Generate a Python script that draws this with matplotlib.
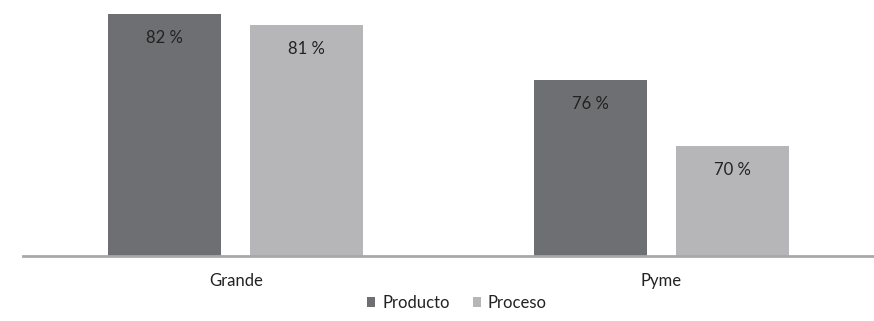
import numpy as np
import matplotlib
matplotlib.use("Agg")
import matplotlib.pyplot as plt
from matplotlib.patches import Patch

plt.rcParams["font.family"] = ["Lato", "DejaVu Sans"]

# Data
categories = ["Grande", "Pyme"]
series     = ["Producto", "Proceso"]
producto   = [82, 76]
proceso    = [81, 70]
colors     = ["#6e6f72", "#b6b6b8"]

fig = plt.figure(figsize=(8.74, 3.21), dpi=100)
ax = fig.add_axes([23 / 874, 1 - 256 / 321, 851 / 874, 256 / 321])

x = np.arange(len(categories))
width = 0.266
offset = 0.167
for vals, sign, color in zip([producto, proceso], [-1, 1], colors):
    bars = ax.bar(x + sign * offset, vals, width=width, color=color,
                  edgecolor="none", zorder=2)
    for b, v in zip(bars, vals):
        ax.annotate(f"{v} %", xy=(b.get_x() + b.get_width() / 2, v),
                    xytext=(0, -17), textcoords="offset points",
                    ha="center", va="center", fontsize=12, color="#222222")

ax.set_xlim(-0.5, 1.5)
ax.set_ylim(60, 83.27)
ax.set_xticks(x)
ax.set_xticklabels(categories, fontsize=12, color="#222222")
ax.tick_params(axis="x", length=0, pad=12)
ax.set_yticks([])
for side in ["top", "right", "left"]:
    ax.spines[side].set_visible(False)
ax.spines["bottom"].set_color("#a8a8a8")
ax.spines["bottom"].set_linewidth(2)
ax.spines["bottom"].set_zorder(3)

handles = [Patch(facecolor=c, edgecolor="none", label=s) for c, s in zip(colors, series)]
fig.legend(handles=handles, loc="center", bbox_to_anchor=(457 / 874, 1 - 303 / 321),
           ncol=2, frameon=False, fontsize=12, handlelength=0.5, handleheight=0.5,
           handletextpad=0.4, columnspacing=1.4, labelcolor="#222222")

plt.savefig("out.png", dpi=100)
plt.close()
